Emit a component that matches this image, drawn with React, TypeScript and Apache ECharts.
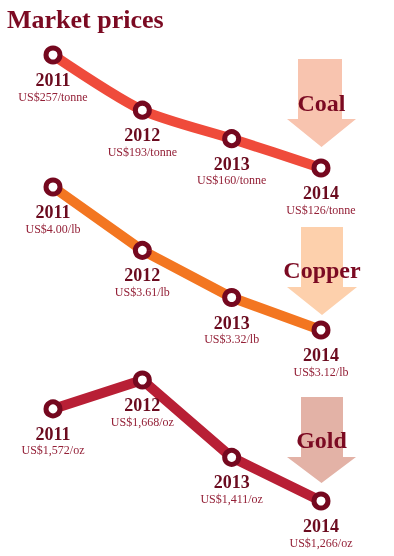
import React, { useEffect, useRef } from 'react';
import * as echarts from 'echarts';

const years = ['2011', '2012', '2013', '2014'];
const coalPrices = [257, 193, 160, 126];
const copperPrices = [4.0, 3.61, 3.32, 3.12];
const goldPrices = [1572, 1668, 1411, 1266];
const metals = ['Coal', 'Copper', 'Gold'];
const title = 'Market prices';

export default function App() {
  const ref = useRef<HTMLDivElement>(null);
  useEffect(() => {
    const chart = echarts.init(ref.current!, null, { renderer: 'svg' });
    const serif = '"Liberation Serif", "Times New Roman", serif';
    const panels = [
      { data: coalPrices, top: 55, height: 113, color: '#EF4B3B', smooth: 0.25, fmt: (v: number) => `US$${v}/tonne` },
      { data: copperPrices, top: 187, height: 143, color: '#F37621', smooth: false, fmt: (v: number) => `US$${v.toFixed(2)}/lb` },
      { data: goldPrices, top: 380, height: 121, color: '#B81F35', smooth: false, fmt: (v: number) => `US$${v.toLocaleString('en-US')}/oz` },
    ];
    const arrows = [
      { shaft: [298, 342], top: 59, headY: 119, head: [287, 356], tip: 147, fill: '#F8C4AF', labelY: 103 },
      { shaft: [301, 343], top: 227, headY: 287, head: [287, 357], tip: 315, fill: '#FDD0AC', labelY: 270 },
      { shaft: [301, 343], top: 397, headY: 457, head: [287, 356], tip: 483, fill: '#E3B2A6', labelY: 440 },
    ];
    const graphic: any[] = [
      {
        type: 'text', left: 7, top: 6, z: 10,
        style: { text: title, fontFamily: serif, fontSize: 26, fontWeight: 'bold', fill: '#7B0A22' },
      },
    ];
    arrows.forEach((a, i) => {
      const cx = (a.head[0] + a.head[1]) / 2;
      graphic.push({
        type: 'polygon', z: 1,
        shape: {
          points: [
            [a.shaft[0], a.top], [a.shaft[1], a.top], [a.shaft[1], a.headY], [a.head[1], a.headY],
            [cx, a.tip], [a.head[0], a.headY], [a.shaft[0], a.headY],
          ],
        },
        style: { fill: a.fill },
      });
      graphic.push({
        type: 'text', z: 2, x: cx, y: a.labelY,
        style: {
          text: metals[i], fontFamily: serif, fontSize: 24, fontWeight: 'bold', fill: '#7B0A22',
          textAlign: 'center', textVerticalAlign: 'middle',
        },
      });
    });
    const rich = {
      y: { fontFamily: serif, fontSize: 18, fontWeight: 'bold', color: '#6B0B1F', lineHeight: 19, align: 'center' },
      v: { fontFamily: serif, fontSize: 12, color: '#931F36', lineHeight: 14, align: 'center' },
    };
    chart.setOption({
      animation: false,
      graphic,
      grid: panels.map((p) => ({ left: 53, right: 73, top: p.top, height: p.height })),
      xAxis: panels.map((p, i) => ({ type: 'category', gridIndex: i, data: years, boundaryGap: false, show: false })),
      yAxis: panels.map((p, i) => ({
        type: 'value', gridIndex: i, min: Math.min(...p.data), max: Math.max(...p.data), show: false,
      })),
      series: panels.map((p, i) => ({
        type: 'line', xAxisIndex: i, yAxisIndex: i, data: p.data, smooth: p.smooth, clip: false, z: 5,
        symbol: 'circle', symbolSize: 14,
        itemStyle: { color: '#FFFFFF', borderColor: '#75081F', borderWidth: 5 },
        lineStyle: { color: p.color, width: 10 },
        emphasis: { disabled: true },
        label: {
          show: true, position: 'bottom', distance: 6,
          formatter: (params: any) => `{y|${years[params.dataIndex]}}\n{v|${p.fmt(params.value)}}`,
          rich,
        },
      })),
    });
    return () => chart.dispose();
  }, []);
  return <div ref={ref} style={{ position: 'fixed', left: 0, top: 0, width: 394, height: 556 }} />;
}
